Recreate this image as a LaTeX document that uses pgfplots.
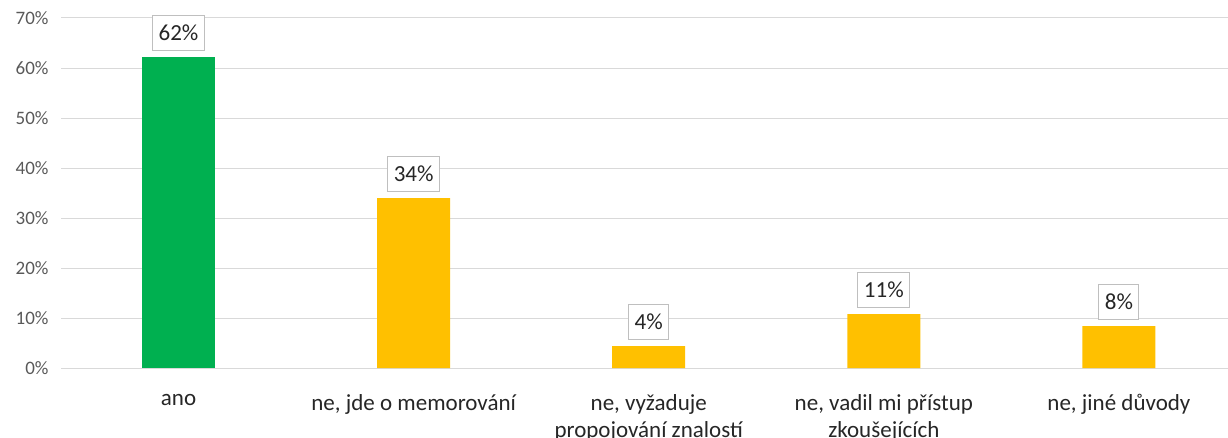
\documentclass[border=0pt]{standalone}
\usepackage{fontspec}
\setmainfont{Carlito}
\usepackage{pgfplots}
\pgfplotsset{compat=1.18}
\definecolor{cgreen}{HTML}{00B050}
\definecolor{cyellow}{HTML}{FFC000}
\definecolor{cgrid}{HTML}{D9D9D9}
\definecolor{ctick}{HTML}{595959}
\definecolor{cbox}{HTML}{BFBFBF}
\begin{document}
\begin{tikzpicture}
\path[use as bounding box] (-61pt,-69pt) rectangle (1167pt,368pt);
\begin{axis}[
  at={(0,0)}, anchor=south west,
  scale only axis,
  width=1167pt, height=350pt,
  xmin=-0.5, xmax=4.464,
  ymin=0, ymax=70,
  ytick={0,10,...,70},
  yticklabel={\pgfmathprintnumber{\tick}\%},
  /pgf/number format/assume math mode=true,
  yticklabel style={font=\fontsize{19}{22}\selectfont, text=ctick, xshift=-9pt},
  xtick={0,1,2,3,4},
  xticklabels={ano, {ne, jde o memorování}, {ne, vyžaduje\\propojování znalostí}, {ne, vadil mi přístup\\zkoušejících}, {ne, jiné důvody}},
  xticklabel style={font=\fontsize{23}{27}\selectfont, text=black!85, align=center, anchor=north, yshift=-23pt},
  major tick length=0pt,
  axis line style={draw=none},
  ymajorgrids, grid style={cgrid, line width=1pt},
  ybar, bar width=73pt, bar shift=0pt,
  point meta=explicit,
  nodes near coords={\pgfmathprintnumber[fixed,precision=0]{\pgfplotspointmeta}\%},
  every node near coord/.append style={font=\fontsize{23}{26}\selectfont, text=black!85, draw=cbox, fill=white, inner xsep=6pt, inner ysep=0pt, minimum height=35pt, anchor=south, yshift=6pt, line width=1pt},
  clip=false,
]
\addplot[fill=cgreen, draw=none] coordinates {(0,62.2) [62]};
\addplot[fill=cyellow, draw=none] coordinates {(1,34.0) [34] (2,4.4) [4] (3,10.8) [11] (4,8.4) [8]};
\end{axis}
\end{tikzpicture}
\end{document}
